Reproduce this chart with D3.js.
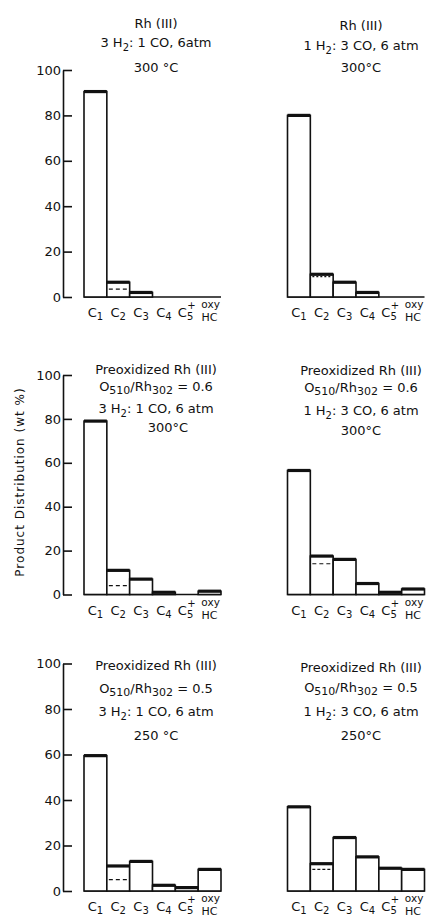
<!DOCTYPE html>
<html>
<head>
<meta charset="utf-8">
<script src="https://cdn.jsdelivr.net/npm/d3@7"></script>
<style>
  html, body { margin: 0; padding: 0; background: #fff; }
  svg { display: block; }
  text { font-family: "DejaVu Sans", sans-serif; fill: #111; }
</style>
</head>
<body>
<svg id="chart" width="428" height="918"></svg>
<script>
// categories (x axis)
const categories = ["C1", "C2", "C3", "C4", "C5+", "oxyHC"];
const yTicks = [0, 20, 40, 60, 80, 100];

// product distribution, wt %, one array per panel
const rh3h2_300 = [90.5, 6.5, 2, 0, 0, 0];
const rh1h2_300 = [80, 10, 6.5, 2, 0, 0];
const ox06_3h2_300 = [79, 11, 7, 1, 0, 1.5];
const ox06_1h2_300 = [56.5, 17.5, 16, 5, 1, 2.5];
const ox05_3h2_250 = [59.5, 11, 13, 2.5, 1.5, 9.5];
const ox05_1h2_250 = [37, 12, 23.5, 15, 10, 9.5];

// dashed level inside the C2 bar, per panel
const c2Dashed = [3.5, 9, 4, 14, 5, 9.5];

// panel titles
const titleRh = "Rh (III)";
const titlePre = "Preoxidized  Rh (III)";
const feed3h2 = ["3 H", "2", ": 1 CO, 6atm"];
const feed3h2b = ["3 H", "2", ": 1 CO, 6 atm"];
const feed1h2 = ["1 H", "2", ": 3 CO, 6 atm"];
const ratio06 = "0.6";
const ratio05 = "0.5";
const temps = ["300 °C", "300°C", "300°C", "300°C", "250 °C", "250°C"];

const svg = d3.select("#chart");

// layout
const rows = [
  {base: 297, top: 70},
  {base: 594.5, top: 375},
  {base: 891, top: 663.5}
];
const cols = [{x0: 84, x1: 221, cx: 156}, {x0: 287.5, x1: 424.5, cx: 361}];

const panels = [
  {r: 0, c: 0, values: rh3h2_300, dash: c2Dashed[0], dashStyle: "4,3",
   lines: [{t: titleRh, y: 28}, {feed: feed3h2, y: 47}, {t: temps[0], y: 72}]},
  {r: 0, c: 1, values: rh1h2_300, dash: c2Dashed[1], dashStyle: "2,2",
   lines: [{t: titleRh, y: 30}, {feed: feed1h2, y: 50}, {t: temps[1], y: 72}]},
  {r: 1, c: 0, values: ox06_3h2_300, dash: c2Dashed[2], dashStyle: "4,3",
   lines: [{t: titlePre, y: 374}, {ratio: ratio06, y: 391}, {feed: feed3h2b, y: 413}, {t: temps[2], y: 432, dx: 12}]},
  {r: 1, c: 1, values: ox06_1h2_300, dash: c2Dashed[3], dashStyle: "4,3",
   lines: [{t: titlePre, y: 375}, {ratio: ratio06, y: 392}, {feed: feed1h2, y: 415}, {t: temps[3], y: 435}]},
  {r: 2, c: 0, values: ox05_3h2_250, dash: c2Dashed[4], dashStyle: "4,3",
   lines: [{t: titlePre, y: 670}, {ratio: ratio05, y: 693}, {feed: feed3h2b, y: 716}, {t: temps[4], y: 740}]},
  {r: 2, c: 1, values: ox05_1h2_250, dash: c2Dashed[5], dashStyle: "3,2",
   lines: [{t: titlePre, y: 672}, {ratio: ratio05, y: 692}, {feed: feed1h2, y: 716}, {t: temps[5], y: 740}]}
];

function drawTitle(g, line, cx) {
  let t = g.append("text")
    .attr("x", cx + (line.dx || 0))
    .attr("y", line.y)
    .attr("text-anchor", "middle")
    .style("font-size", "13px");
  if (line.t) {
    t.text(line.t);
  } else if (line.feed) {
    t.append("tspan").text(line.feed[0]);
    t.append("tspan").attr("dy", 4).style("font-size", "10px").text(line.feed[1]);
    t.append("tspan").attr("dy", -4).text(line.feed[2]);
  } else if (line.ratio) {
    t.append("tspan").text("O");
    t.append("tspan").attr("dy", 3).style("font-size", "11px").text("510");
    t.append("tspan").attr("dy", -3).text("/Rh");
    t.append("tspan").attr("dy", 3).style("font-size", "11px").text("302");
    t.append("tspan").attr("dy", -3).text(" = " + line.ratio);
  }
}

function drawXLabel(g, cat, x, base) {
  if (cat === "oxyHC") {
    g.append("text").attr("x", x + 1).attr("y", base + 11)
      .attr("text-anchor", "middle").style("font-size", "10.5px").text("oxy");
    g.append("text").attr("x", x).attr("y", base + 24)
      .attr("text-anchor", "middle").style("font-size", "11px").text("HC");
    return;
  }
  let t = g.append("text").attr("x", x).attr("y", base + 20)
    .attr("text-anchor", "middle").style("font-size", "13px");
  t.append("tspan").text("C");
  if (cat === "C5+") {
    t.append("tspan").attr("dy", 3).style("font-size", "10px").text("5");
    t.append("tspan").attr("dx", -6).attr("dy", -11).style("font-size", "10px").text("+");
  } else {
    t.append("tspan").attr("dy", 3).style("font-size", "10px").text(cat.slice(1));
  }
}

panels.forEach(function(p) {
  let row = rows[p.r], col = cols[p.c];
  let g = svg.append("g");
  let x = d3.scaleBand().domain(categories).range([col.x0, col.x1]).padding(0);
  let y = d3.scaleLinear().domain([0, 100]).range([row.base, row.top]);

  // y axis only on the left column
  if (p.c === 0) {
    let ax = g.append("g").attr("transform", "translate(63,0)")
      .call(d3.axisLeft(y).tickValues(yTicks).tickSizeInner(-9).tickSizeOuter(0).tickPadding(2));
    ax.selectAll("path, line").attr("stroke", "#111").attr("stroke-width", 1.6);
    ax.selectAll("text").style("font-size", "13px").style("font-family", "DejaVu Sans, sans-serif").attr("fill", "#111");
  }

  // baseline under the bars
  g.append("line")
    .attr("x1", col.x0).attr("x2", col.x1)
    .attr("y1", y(0)).attr("y2", y(0))
    .attr("stroke", "#111").attr("stroke-width", 1.6);

  let data = categories.map(function(c, i) { return {cat: c, v: p.values[i]}; });
  let bars = data.filter(function(d) { return d.v > 0; });

  g.selectAll("rect.bar").data(bars).enter().append("rect")
    .attr("class", "bar")
    .attr("x", function(d) { return x(d.cat); })
    .attr("y", function(d) { return y(d.v); })
    .attr("width", x.bandwidth())
    .attr("height", function(d) { return y(0) - y(d.v); })
    .attr("fill", "#fff")
    .attr("stroke", "#111")
    .attr("stroke-width", 1.6);

  // heavy top edge
  g.selectAll("line.cap").data(bars).enter().append("line")
    .attr("class", "cap")
    .attr("x1", function(d) { return x(d.cat); })
    .attr("x2", function(d) { return x(d.cat) + x.bandwidth(); })
    .attr("y1", function(d) { return y(d.v); })
    .attr("y2", function(d) { return y(d.v); })
    .attr("stroke", "#111").attr("stroke-width", 3.2);

  // dashed level in C2
  g.append("line")
    .attr("x1", x("C2") + 2).attr("x2", x("C2") + x.bandwidth() - 1)
    .attr("y1", y(p.dash)).attr("y2", y(p.dash))
    .attr("stroke", "#111").attr("stroke-width", 1.2)
    .attr("stroke-dasharray", p.dashStyle);

  categories.forEach(function(c) {
    drawXLabel(g, c, x(c) + x.bandwidth() / 2, y(0));
  });

  p.lines.forEach(function(l) { drawTitle(g, l, col.cx); });
});

// y axis title
svg.append("text")
  .attr("transform", "translate(24,482) rotate(-90)")
  .attr("text-anchor", "middle")
  .style("font-size", "12px")
  .style("letter-spacing", "1px")
  .text("Product Distribution (wt %)");
</script>
</body>
</html>
